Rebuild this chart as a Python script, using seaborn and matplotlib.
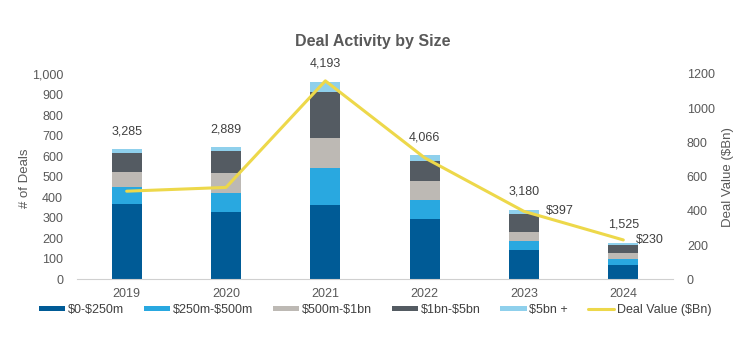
import numpy as np
import matplotlib
matplotlib.use("Agg")
import matplotlib.pyplot as plt
import seaborn as sns
from matplotlib.patches import Patch
from matplotlib.lines import Line2D

years = ["2019", "2020", "2021", "2022", "2023", "2024"]
seg_0_250m = [367, 328, 363, 294, 143, 70]
seg_250_500m = [84, 94, 181, 92, 45, 29]
seg_500m_1bn = [72, 94, 143, 93, 42, 28]
seg_1bn_5bn = [91, 110, 225, 99, 88, 42]
seg_5bn_plus = [19, 18, 49, 27, 20, 8]
deal_count_labels = ["3,285", "2,889", "4,193", "4,066", "3,180", "1,525"]
deal_value = [515, 537, 1160, 710, 397, 230]
value_labels = ["", "", "", "", "\\$397", "\\$230"]

seg_names = ["\\$0-\\$250m", "\\$250m-\\$500m", "\\$500m-\\$1bn", "\\$1bn-\\$5bn", "\\$5bn +"]
seg_colors = ["#005B96", "#29A8E0", "#BDB9B4", "#545B62", "#8FD0EC"]
line_color = "#EDD84A"
txt = "#404040"

sns.set_theme(style="white")
plt.rcParams["font.family"] = ["Liberation Sans", "DejaVu Sans"]

fig = plt.figure(figsize=(7.5, 3.51), dpi=100)
ax = fig.add_axes([0.1027, 0.2043, 0.7946, 0.5849])

segments = [seg_0_250m, seg_250_500m, seg_500m_1bn, seg_1bn_5bn, seg_5bn_plus]
bottom = np.zeros(len(years))
for vals, col in zip(segments, seg_colors):
    sns.barplot(x=years, y=vals, bottom=bottom, color=col, width=0.3,
                saturation=1, ax=ax, zorder=2, edgecolor="none", linewidth=0)
    bottom = bottom + np.array(vals)

ax.set_xlim(-0.5, 5.5)
ax.set_ylim(0, 1000)
ax.set_yticks(np.arange(0, 1001, 100))
ax.set_yticklabels([f"{v:,}" for v in range(0, 1001, 100)])

for i, lab in enumerate(deal_count_labels):
    ax.annotate(lab, (i, bottom[i]), xytext=(0, 13), textcoords="offset points",
                ha="center", va="center", fontsize=9, color=txt, zorder=5)

ax2 = ax.twinx()
x_pos = np.arange(len(years))
sns.lineplot(x=x_pos, y=deal_value, color=line_color, lw=2.2, ax=ax2, zorder=4)
ax2.set_ylim(0, 1200)
ax2.set_yticks(np.arange(0, 1201, 200))
offsets = [0, 0, 0, 0, 16, 9]
for i, lab in enumerate(value_labels):
    if lab:
        ax2.annotate(lab, (i, deal_value[i]), xytext=(offsets[i], 0),
                     textcoords="offset points", ha="left", va="center",
                     fontsize=9, color=txt)

for a in (ax, ax2):
    for s in a.spines.values():
        s.set_visible(False)
    a.tick_params(length=0, labelsize=9, labelcolor="#595959")
    a.grid(False)
ax.spines["bottom"].set_visible(True)
ax.spines["bottom"].set_color("#D0D0D0")
ax.spines["bottom"].set_linewidth(0.8)
ax.tick_params(axis="x", pad=6)
ax.tick_params(axis="y", pad=10)
ax2.tick_params(axis="y", pad=10)

ax.set_ylabel("# of Deals", fontsize=9.5, color="#595959")
ax.yaxis.set_label_coords(-0.077, 0.49)
ax2.set_ylabel("Deal Value (\\$Bn)", fontsize=9.5, color="#595959")
ax2.yaxis.set_label_coords(1.082, 0.5)

fig.text(0.497, 0.883, "Deal Activity by Size", ha="center", va="center",
         fontsize=11.5, fontweight="bold", color="#595959")

handles = [Patch(facecolor=c, edgecolor="none") for c in seg_colors]
handles.append(Line2D([0], [0], color=line_color, lw=2.2))
fig.legend(handles, seg_names + ["Deal Value (\\$Bn)"], loc="center",
           bbox_to_anchor=(0.5, 0.117), ncol=6, frameon=False, fontsize=9,
           handlelength=2.1, handleheight=0.3, handletextpad=0.2,
           columnspacing=1.6, labelcolor=txt)

fig.savefig("out.png", dpi=100, facecolor="white")
